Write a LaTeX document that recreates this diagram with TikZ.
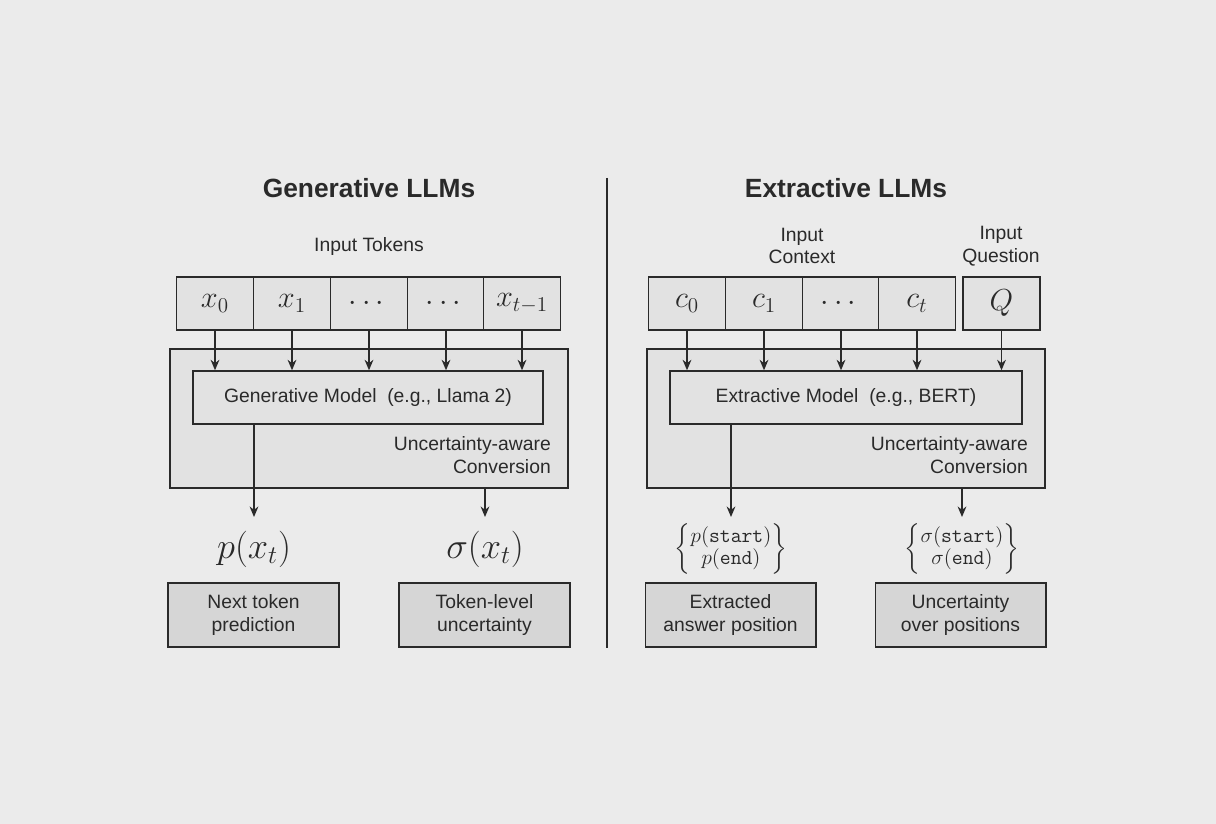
\documentclass[tikz,border=0pt]{standalone}
\usepackage{amsmath}
\usepackage{fontspec}
\setmainfont{Liberation Sans}
\usepackage{tikz}
\usetikzlibrary{arrows.meta}

\tikzset{
  tok/.style={draw, line width=0.9pt, fill=tokfill, minimum width=1.54cm, minimum height=1.06cm, inner sep=0pt, font=\fontsize{17}{17}\selectfont},
  outer/.style={draw, line width=0.8pt, fill=tokfill, minimum width=7.96cm, minimum height=2.78cm, inner sep=0pt},
  model/.style={draw, line width=0.8pt, fill=tokfill, minimum height=1.06cm, inner sep=0pt, font=\fontsize{11}{13}\selectfont},
  outbox/.style={draw, line width=0.6pt, fill=outfill, minimum width=3.42cm, minimum height=1.28cm, inner sep=0pt, align=center, font=\fontsize{11}{13}\selectfont},
  lbl/.style={align=center, font=\fontsize{11}{13}\selectfont},
  ttl/.style={font=\fontsize{15}{17}\selectfont\bfseries},
  arr/.style={-{Stealth[length=6pt,width=5pt]}, line width=0.8pt},
}
\definecolor{bg}{HTML}{EBEBEB}
\definecolor{tokfill}{HTML}{E2E2E2}
\definecolor{outfill}{HTML}{D6D6D6}
\definecolor{ink}{HTML}{2A2A2A}

\begin{document}
\begin{tikzpicture}[x=0.02cm, y=-0.02cm, color=ink]
  \fill[bg] (0,0) rectangle (1216,824);
  \useasboundingbox (0,0) rectangle (1216,824);

  % left half
  \node[ttl] (gtitle) at (369,188) {Generative LLMs};
  \node[lbl] (gin) at (369,247) {Input Tokens};
  \node[outer] (gouter) at (369,418.5) {};
  \node[model, minimum width=7.0cm] (gmodel) at (368,397.5) {Generative Model\ \ (e.g., Llama 2)};
  \node[lbl, align=right, anchor=east] (gconv) at (557,455.5) {Uncertainty-aware\\Conversion};
  \foreach \i/\x/\t in {0/215/{$x_0$}, 1/292/{$x_1$}, 2/369/{$\cdots$}, 3/446/{$\cdots$}, 4/522/{$x_{t-1}$}} {
    \node[tok] (g\i) at (\x,303.5) {\t};
    \draw[arr] (g\i.south) -- (g\i.south |- gmodel.north);
  }
  \coordinate (gp) at (254,517);
  \coordinate (gs) at (485,517);
  \draw[arr] (gmodel.south -| gp) -- (gp);
  \draw[arr] (gouter.south -| gs) -- (gs);
  \node[font=\fontsize{20}{20}\selectfont] (gpx) at (254,549) {$p(x_t)$};
  \node[font=\fontsize{20}{20}\selectfont] (gsx) at (485,549) {$\sigma(x_t)$};
  \node[outbox] (gnext) at (253.5,615) {Next token\\prediction};
  \node[outbox] (gunc) at (484.5,615) {Token-level\\uncertainty};

  % divider
  \draw[line width=0.8pt] (607,178) -- (607,648);

  % right half
  \node[ttl] (etitle) at (846,188) {Extractive LLMs};
  \node[lbl] (ectx) at (802,246) {Input\\Context};
  \node[lbl] (eq) at (1001,246) {Input\\Question};
  \node[outer] (eouter) at (846,418.5) {};
  \node[model, minimum width=7.04cm] (emodel) at (846,397.5) {Extractive Model\ \ (e.g., BERT)};
  \node[lbl, align=right, anchor=east] (econv) at (1034,455.5) {Uncertainty-aware\\Conversion};
  \foreach \i/\x/\t in {0/687/{$c_0$}, 1/764/{$c_1$}, 2/841/{$\cdots$}, 3/917/{$c_t$}} {
    \node[tok] (e\i) at (\x,303.5) {\t};
    \draw[arr] (e\i.south) -- (e\i.south |- emodel.north);
  }
  \node[tok] (eQ) at (1001.5,303.5) {$Q$};
  \draw[arr] (eQ.south) -- (eQ.south |- emodel.north);
  \coordinate (ep) at (731,517);
  \coordinate (es) at (962,517);
  \draw[arr] (emodel.south -| ep) -- (ep);
  \draw[arr] (eouter.south -| es) -- (es);
  \node[font=\fontsize{12}{12}\selectfont] (epx) at (731,549) {$\left\{\begin{matrix}p(\texttt{start})\\ p(\texttt{end})\end{matrix}\right\}$};
  \node[font=\fontsize{12}{12}\selectfont] (esx) at (962,549) {$\left\{\begin{matrix}\sigma(\texttt{start})\\ \sigma(\texttt{end})\end{matrix}\right\}$};
  \node[outbox] (eans) at (730.5,615) {Extracted\\answer position};
  \node[outbox] (eunc) at (960.5,615) {Uncertainty\\over positions};
\end{tikzpicture}
\end{document}
